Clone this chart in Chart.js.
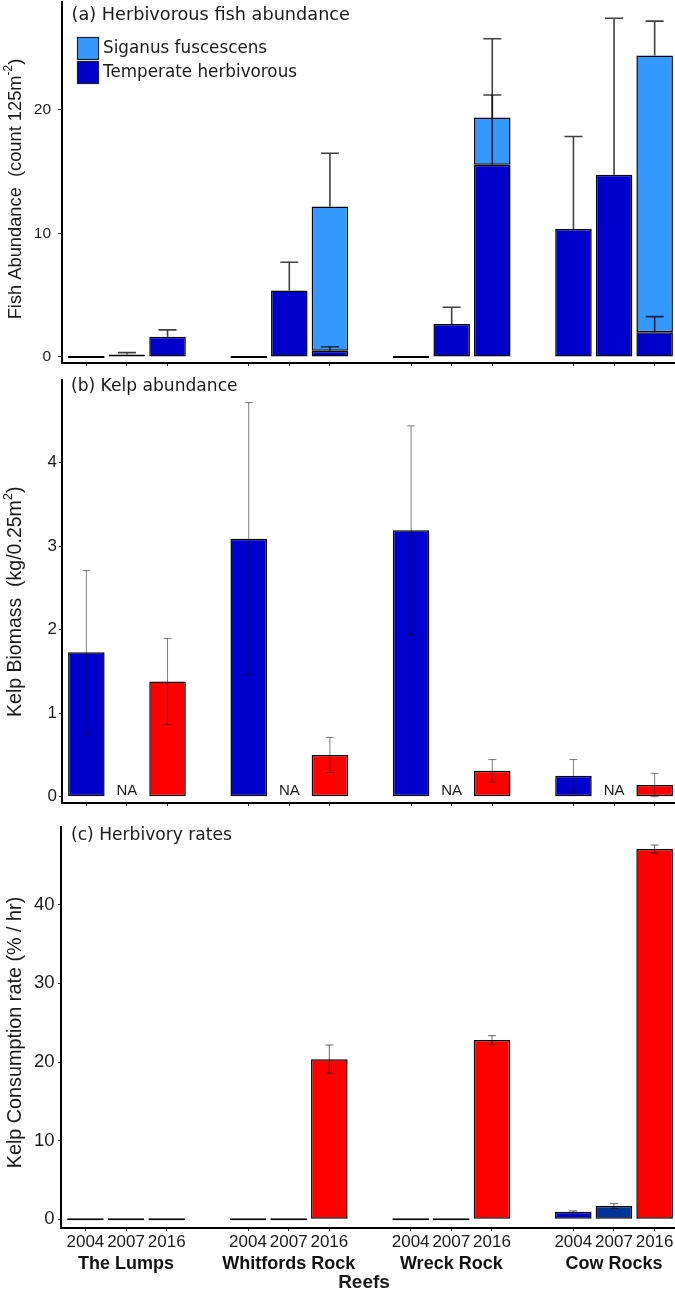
<!DOCTYPE html>
<html><head><meta charset="utf-8">
<script src="https://cdn.jsdelivr.net/npm/chart.js@4/dist/chart.umd.min.js"></script>
<style>
html,body{margin:0;padding:0;background:#fff;}
#wrap{position:relative;width:675px;height:1293px;overflow:hidden;background:#fff;}
canvas{position:absolute;left:0;}
</style></head><body>
<div id="wrap">
<canvas id="ca" width="700" height="372" style="top:0px"></canvas>
<canvas id="cb" width="700" height="440" style="top:372px"></canvas>
<canvas id="cc" width="700" height="481" style="top:812px"></canvas>
</div>
<script>
// ---------- data ----------
const reefs = ["The Lumps", "Whitfords Rock", "Wreck Rock", "Cow Rocks"];
const years = ["2004", "2007", "2016"];

// (a) fish abundance (count 125 m^-2)
const temperateFish   = [0, 0.2, 1.64, 0, 5.37, 0.51, 0, 2.67, 15.55, 10.36, 14.74, 2.0];
const temperateFishSE = [null, 0.15, 0.55, null, 2.3, 0.32, null, 1.35, 5.65, 7.48, 12.68, 1.26];
const siganusFish     = [null, null, null, null, null, 11.66, null, null, 3.83, null, null, 22.4];
const siganusFishSE   = [null, null, null, null, null, 4.32, null, null, 6.37, null, null, 2.78];
const fishTicks = [0, 10, 20];

// (b) kelp biomass (kg / 0.25 m^2)
const kelpBiomass   = [1.73, null, 1.38, 3.09, null, 0.50, 3.19, null, 0.31, 0.25, null, 0.14];
const kelpBiomassSE = [0.98, null, 0.515, 1.63, null, 0.21, 1.25, null, 0.135, 0.195, null, 0.14];
const biomassTicks = [0, 1, 2, 3, 4];

// (c) kelp consumption (% / hr)
const consumption   = [0, 0, 0, 0, 0, 20.36, 0, 0, 22.8, 0.97, 1.69, 47.07];
const consumptionSE = [null, null, null, null, null, 1.8, null, null, 0.55, 0.1, 0.3, 0.52];
const consumptionTicks = [0, 10, 20, 30, 40];

// ---------- styling ----------
const DARK_BLUE = '#0000CC', LIGHT_BLUE = '#3399FF', NAVY = '#003399', RED = '#FF0000';
const yearColors = [DARK_BLUE, NAVY, RED];
const SANS = '"Liberation Sans", Arial, sans-serif';
const DEJA = '"DejaVu Sans", Verdana, sans-serif';
const TXT = '#1a1a1a';

// slot index of each reef/year bar (one empty slot between reefs)
const xPositions = reefs.flatMap((r, ri) => years.map((y, yi) => ri * 4 + yi));
const reefCentres = reefs.map((r, ri) => ri * 4 + 1);
const pts = vals => xPositions.map((x, i) => ({x: x, y: vals[i]}));
const barColours = () => xPositions.map((x, i) => yearColors[i % 3]);

function xAxis(showLabels, h) {
  return {
    type: 'linear', min: -0.6, max: 14.6, bounds: 'data', offset: false, stacked: true, weight: 1,
    grid: {display: true, drawOnChartArea: false, drawTicks: true, tickLength: 3, color: '#333', lineWidth: 1, offset: false},
    border: {display: true, color: '#000', width: 2},
    ticks: {display: showLabels, autoSkip: false, maxRotation: 0, minRotation: 0, padding: 1, color: TXT,
            font: {family: SANS, size: 17, lineHeight: 1.2},
            callback: v => years[((Math.round(v) % 4) + 4) % 4] || ''},
    afterBuildTicks: s => { s.ticks = xPositions.map(v => ({value: v})); },
    afterFit: s => { s.height = h; s.paddingLeft = 0; s.paddingRight = 0; }
  };
}
function reefAxis(h) {
  return {
    type: 'linear', position: 'bottom', min: -0.6, max: 14.6, bounds: 'data', offset: false, weight: 2,
    grid: {display: false, drawTicks: false},
    border: {display: false},
    ticks: {autoSkip: false, maxRotation: 0, minRotation: 0, padding: 0, color: '#111',
            font: {family: SANS, size: 18, weight: 'bold', lineHeight: 1.2},
            callback: v => reefs[Math.round((v - 1) / 4)] || ''},
    afterBuildTicks: s => { s.ticks = reefCentres.map(v => ({value: v})); },
    afterFit: s => { s.height = h; s.paddingLeft = 0; s.paddingRight = 0; }
  };
}
function yAxis(min, max, tickVals, fontSize, tickLen, pad, width, stacked) {
  return {
    type: 'linear', min: min, max: max, bounds: 'data', stacked: stacked,
    grid: {drawOnChartArea: false, drawTicks: true, tickLength: tickLen, color: '#333', lineWidth: 1},
    border: {display: true, color: '#000', width: 2},
    ticks: {padding: pad, color: TXT, font: {family: SANS, size: fontSize}, callback: v => String(v)},
    afterBuildTicks: s => { s.ticks = tickVals.map(v => ({value: v})); },
    afterFit: s => { s.width = width; s.paddingTop = 0; s.paddingBottom = 0; }
  };
}

function drawErrors(chart, baseVals, errs, both, st) {
  const ctx = chart.ctx, xs = chart.scales.x, ys = chart.scales.y;
  ctx.save();
  ctx.strokeStyle = st.color; ctx.lineWidth = st.width;
  errs.forEach((e, i) => {
    if (e == null || baseVals[i] == null) return;
    const x = xs.getPixelForValue(xPositions[i]);
    const v = baseVals[i];
    const yTop = ys.getPixelForValue(v + e);
    const yBot = ys.getPixelForValue(both ? Math.max(v - e, 0) : v);
    ctx.beginPath();
    ctx.moveTo(x, yTop); ctx.lineTo(x, yBot);
    ctx.moveTo(x - st.cap, yTop); ctx.lineTo(x + st.cap, yTop);
    if (both) { ctx.moveTo(x - st.cap, yBot); ctx.lineTo(x + st.cap, yBot); }
    ctx.stroke();
  });
  ctx.restore();
}
function drawYTitle(ctx, cx, cy, parts) {
  ctx.save();
  ctx.translate(cx, cy); ctx.rotate(-Math.PI / 2);
  ctx.fillStyle = TXT; ctx.textBaseline = 'middle'; ctx.textAlign = 'left';
  let total = 0;
  parts.forEach(p => { ctx.font = p.font; p.w = ctx.measureText(p.text).width; total += p.w; });
  let x = -total / 2;
  parts.forEach(p => { ctx.font = p.font; ctx.fillText(p.text, x, p.dy || 0); x += p.w; });
  ctx.restore();
}
function drawLabel(ctx, text, x, y, font, align) {
  ctx.save();
  ctx.fillStyle = TXT; ctx.font = font; ctx.textBaseline = 'middle'; ctx.textAlign = align || 'left';
  ctx.fillText(text, x, y);
  ctx.restore();
}

const barStyle = {borderColor: '#000', borderWidth: 1.5, borderSkipped: false, categoryPercentage: 1, barPercentage: 0.9};
const common = {
  responsive: false, animation: false, devicePixelRatio: 1,
  plugins: {legend: {display: false}, tooltip: {enabled: false}}
};

// ---------- (a) ----------
const sigTotals = siganusFish.map((v, i) => v == null ? null : v + temperateFish[i]);
new Chart(document.getElementById('ca'), {
  type: 'bar',
  data: {datasets: [
    Object.assign({label: 'Temperate herbivorous', data: pts(temperateFish), backgroundColor: DARK_BLUE, minBarLength: 2}, barStyle),
    Object.assign({label: 'Siganus fuscescens', data: pts(siganusFish), backgroundColor: LIGHT_BLUE}, barStyle)
  ]},
  options: Object.assign({}, common, {
    layout: {padding: {top: 2, right: 21, left: 0, bottom: 0}},
    scales: {x: xAxis(false, 9), y: yAxis(-0.49, 28.73, fishTicks, 15.5, 4, 7, 62, true)}
  }),
  plugins: [{id: 'decoA', afterDatasetsDraw(chart) {
    const ctx = chart.ctx;
    drawErrors(chart, temperateFish, temperateFishSE, false, {color: 'rgba(0,0,0,0.75)', width: 1.6, cap: 9});
    drawErrors(chart, sigTotals, siganusFishSE, false, {color: 'rgba(0,0,0,0.75)', width: 1.6, cap: 9});
    drawLabel(ctx, '(a) Herbivorous fish abundance', 71.5, 15, '17.7px ' + DEJA);
    const ds = chart.data.datasets;
    [[ds[1], 37], [ds[0], 61]].forEach(([d, top]) => {
      ctx.save();
      ctx.fillStyle = d.backgroundColor; ctx.fillRect(77, top, 22, 23);
      ctx.strokeStyle = '#222'; ctx.lineWidth = 1.2; ctx.strokeRect(77.5, top + 0.5, 21, 22);
      ctx.restore();
      drawLabel(ctx, d.label, 103, top + 11.5, '16.8px ' + DEJA);
    });
    drawYTitle(ctx, 16, 189, [
      {text: 'Fish Abundance  (count 125m', font: '18.3px ' + SANS},
      {text: '-2', font: '12px ' + SANS, dy: -7},
      {text: ')', font: '18.3px ' + SANS}
    ]);
  }}]
});

// ---------- (b) ----------
new Chart(document.getElementById('cb'), {
  type: 'bar',
  data: {datasets: [
    Object.assign({label: 'Kelp biomass', data: pts(kelpBiomass), backgroundColor: barColours()}, barStyle)
  ]},
  options: Object.assign({}, common, {
    layout: {padding: {top: 8, right: 21, left: 0, bottom: 0}},
    scales: {x: xAxis(false, 9), y: yAxis(-0.075, 4.989, biomassTicks, 17, 3, 2, 62, false)}
  }),
  plugins: [{id: 'decoB', afterDatasetsDraw(chart) {
    const ctx = chart.ctx, xs = chart.scales.x, ys = chart.scales.y;
    drawErrors(chart, kelpBiomass, kelpBiomassSE, true, {color: 'rgba(0,0,0,0.5)', width: 1, cap: 4});
    kelpBiomass.forEach((v, i) => {
      if (v == null) drawLabel(ctx, 'NA', xs.getPixelForValue(xPositions[i]), ys.getPixelForValue(0) - 6, '15px ' + SANS, 'center');
    });
    drawLabel(ctx, '(b) Kelp abundance', 71, 14.5, '17.1px ' + DEJA);
    drawYTitle(ctx, 16, 229.7, [
      {text: 'Kelp Biomass  (kg/0.25m', font: '19.5px ' + SANS},
      {text: '2', font: '13px ' + SANS, dy: -8},
      {text: ')', font: '19.5px ' + SANS}
    ]);
  }}]
});

// ---------- (c) ----------
new Chart(document.getElementById('cc'), {
  type: 'bar',
  data: {datasets: [
    Object.assign({label: 'Kelp consumption', data: pts(consumption), backgroundColor: barColours(), minBarLength: 2}, barStyle)
  ]},
  options: Object.assign({}, common, {
    layout: {padding: {top: 15, right: 21, left: 0, bottom: 0}},
    scales: {x: xAxis(true, 25), x2: reefAxis(40), y: yAxis(-1.106, 49.88, consumptionTicks, 18.5, 3, 3.5, 61, false)}
  }),
  plugins: [{id: 'decoC', afterDatasetsDraw(chart) {
    const ctx = chart.ctx;
    drawErrors(chart, consumption, consumptionSE, true, {color: 'rgba(0,0,0,0.6)', width: 1, cap: 4});
    drawLabel(ctx, '(c) Herbivory rates', 71, 24, '17.1px ' + DEJA);
    drawYTitle(ctx, 16, 220.5, [
      {text: 'Kelp Consumption rate (% / hr)', font: '19.8px ' + SANS}
    ]);
  }, afterDraw(chart) {
    drawLabel(chart.ctx, 'Reefs', 364, 471, 'bold 19px ' + SANS, 'center');
  }}]
});
</script>
</body></html>
